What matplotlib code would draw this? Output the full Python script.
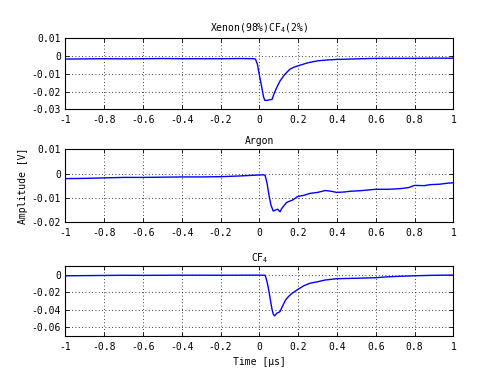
import matplotlib
matplotlib.use("Agg")
import matplotlib.pyplot as plt

# ---- data ----
t_xe = [-1.0, -0.9, -0.8, -0.7, -0.6, -0.5, -0.4, -0.3, -0.2, -0.1, -0.03, -0.02, -0.01, -0.002,
        0.008, 0.016, 0.022, 0.028, 0.04, 0.055, 0.066, 0.075, 0.09, 0.107, 0.13, 0.158, 0.18,
        0.2, 0.25, 0.3, 0.35, 0.4, 0.5, 0.6, 0.7, 0.8, 0.9, 1.0]
v_xe = [-0.0017, -0.0016, -0.0015, -0.0016, -0.0015, -0.0014, -0.0015, -0.0015, -0.0015, -0.0014,
        -0.0015, -0.0017, -0.0045, -0.0093, -0.0150, -0.0196, -0.0230, -0.0249, -0.0250, -0.0246,
        -0.0244, -0.0215, -0.0177, -0.0140, -0.0105, -0.0074, -0.0062, -0.0055, -0.0038, -0.0027,
        -0.0022, -0.0019, -0.0016, -0.0013, -0.0013, -0.0013, -0.0012, -0.0012]

t_ar = [-1.0, -0.9, -0.8, -0.7, -0.6, -0.5, -0.4, -0.3, -0.2, -0.1, 0.0, 0.02, 0.03, 0.04, 0.05,
        0.06, 0.072, 0.085, 0.095, 0.107, 0.115, 0.124, 0.14, 0.15, 0.17, 0.2, 0.23, 0.26, 0.3,
        0.34, 0.37, 0.4, 0.44, 0.47, 0.52, 0.6, 0.67, 0.73, 0.77, 0.8, 0.85, 0.88, 0.93, 0.97, 1.0]
v_ar = [-0.0021, -0.0020, -0.0018, -0.0016, -0.0016, -0.0015, -0.0014, -0.0014, -0.0013, -0.0010,
        -0.0006, -0.0005, -0.0008, -0.0040, -0.0090, -0.0130, -0.0155, -0.0150, -0.0147, -0.0158,
        -0.0145, -0.0136, -0.0120, -0.0116, -0.0110, -0.0094, -0.0090, -0.0082, -0.0078, -0.0070,
        -0.0073, -0.0078, -0.0076, -0.0073, -0.0071, -0.0065, -0.0065, -0.0062, -0.0058, -0.0049,
        -0.0050, -0.0046, -0.0044, -0.0040, -0.0038]

t_cf = [-1.0, -0.9, -0.8, -0.7, -0.6, -0.5, -0.4, -0.3, -0.2, -0.1, 0.0, 0.03, 0.04, 0.05, 0.058,
        0.066, 0.072, 0.078, 0.085, 0.09, 0.1, 0.107, 0.115, 0.124, 0.135, 0.15, 0.17, 0.2, 0.23,
        0.26, 0.3, 0.34, 0.4, 0.5, 0.6, 0.65, 0.73, 0.8, 0.9, 1.0]
v_cf = [-0.0012, -0.0010, -0.0008, -0.0006, -0.0007, -0.0006, -0.0005, -0.0005, -0.0006, -0.0005,
        -0.0004, -0.0006, -0.0080, -0.0190, -0.0300, -0.0400, -0.0450, -0.0470, -0.0455, -0.0440,
        -0.0430, -0.0420, -0.0380, -0.0340, -0.0290, -0.0250, -0.0210, -0.0166, -0.0125, -0.0098,
        -0.0080, -0.0060, -0.0045, -0.0040, -0.0034, -0.0025, -0.0017, -0.0012, -0.0006, -0.0004]

x_ticks = [-1, -0.8, -0.6, -0.4, -0.2, 0, 0.2, 0.4, 0.6, 0.8, 1]
x_labels = ["-1", "-0.8", "-0.6", "-0.4", "-0.2", "0", "0.2", "0.4", "0.6", "0.8", "1"]

titles = ["Xenon(98%)CF$_4$(2%)", "Argon", "CF$_4$"]
y_ticks = [[-0.03, -0.02, -0.01, 0, 0.01], [-0.02, -0.01, 0, 0.01], [-0.06, -0.04, -0.02, 0]]
y_labels = [["-0.03", "-0.02", "-0.01", "0", "0.01"], ["-0.02", "-0.01", "0", "0.01"],
            ["-0.06", "-0.04", "-0.02", "0"]]
y_lims = [(-0.03, 0.01), (-0.02, 0.01), (-0.07, 0.01)]

plt.rcParams['font.family'] = ['DejaVu Sans Mono']
plt.rcParams['mathtext.fontset'] = 'custom'
plt.rcParams['mathtext.rm'] = 'DejaVu Sans Mono'
plt.rcParams['mathtext.it'] = 'DejaVu Sans Mono'
fs = 7

fig = plt.figure(figsize=(5.01, 3.79), dpi=100)
W, H = 501, 379
boxes = [(65.3, 38.3, 453.3, 109.3), (65.3, 149.3, 453.3, 222), (65.3, 266, 453.3, 336)]
series = [(t_xe, v_xe), (t_ar, v_ar), (t_cf, v_cf)]
title_pads = [5, 4, 3.5]

axes = []
for i, (l, t, r, b) in enumerate(boxes):
    ax = fig.add_axes([l / W, 1 - b / H, (r - l) / W, (b - t) / H])
    tt, vv = series[i]
    ax.plot(tt, vv, color='#0000ff', lw=1.0)
    ax.set_xlim(-1, 1)
    ax.set_ylim(*y_lims[i])
    ax.set_xticks(x_ticks)
    ax.set_xticklabels(x_labels, fontsize=fs)
    ax.set_yticks(y_ticks[i])
    ax.set_yticklabels(y_labels[i], fontsize=fs)
    ax.grid(True, color='black', linestyle=(0, (1, 3)), linewidth=0.6)
    ax.tick_params(direction='in', top=True, right=True, length=3, width=0.6, pad=3)
    ax.tick_params(axis='x', pad=4)
    for s in ax.spines.values():
        s.set_linewidth(0.8)
    ax.set_title(titles[i], fontsize=fs, pad=title_pads[i])
    axes.append(ax)

axes[1].set_ylabel("Amplitude [V]", fontsize=fs, labelpad=3)
axes[2].set_xlabel("Time [μs]", fontsize=fs, labelpad=4)

fig.savefig("out.png", dpi=100)
